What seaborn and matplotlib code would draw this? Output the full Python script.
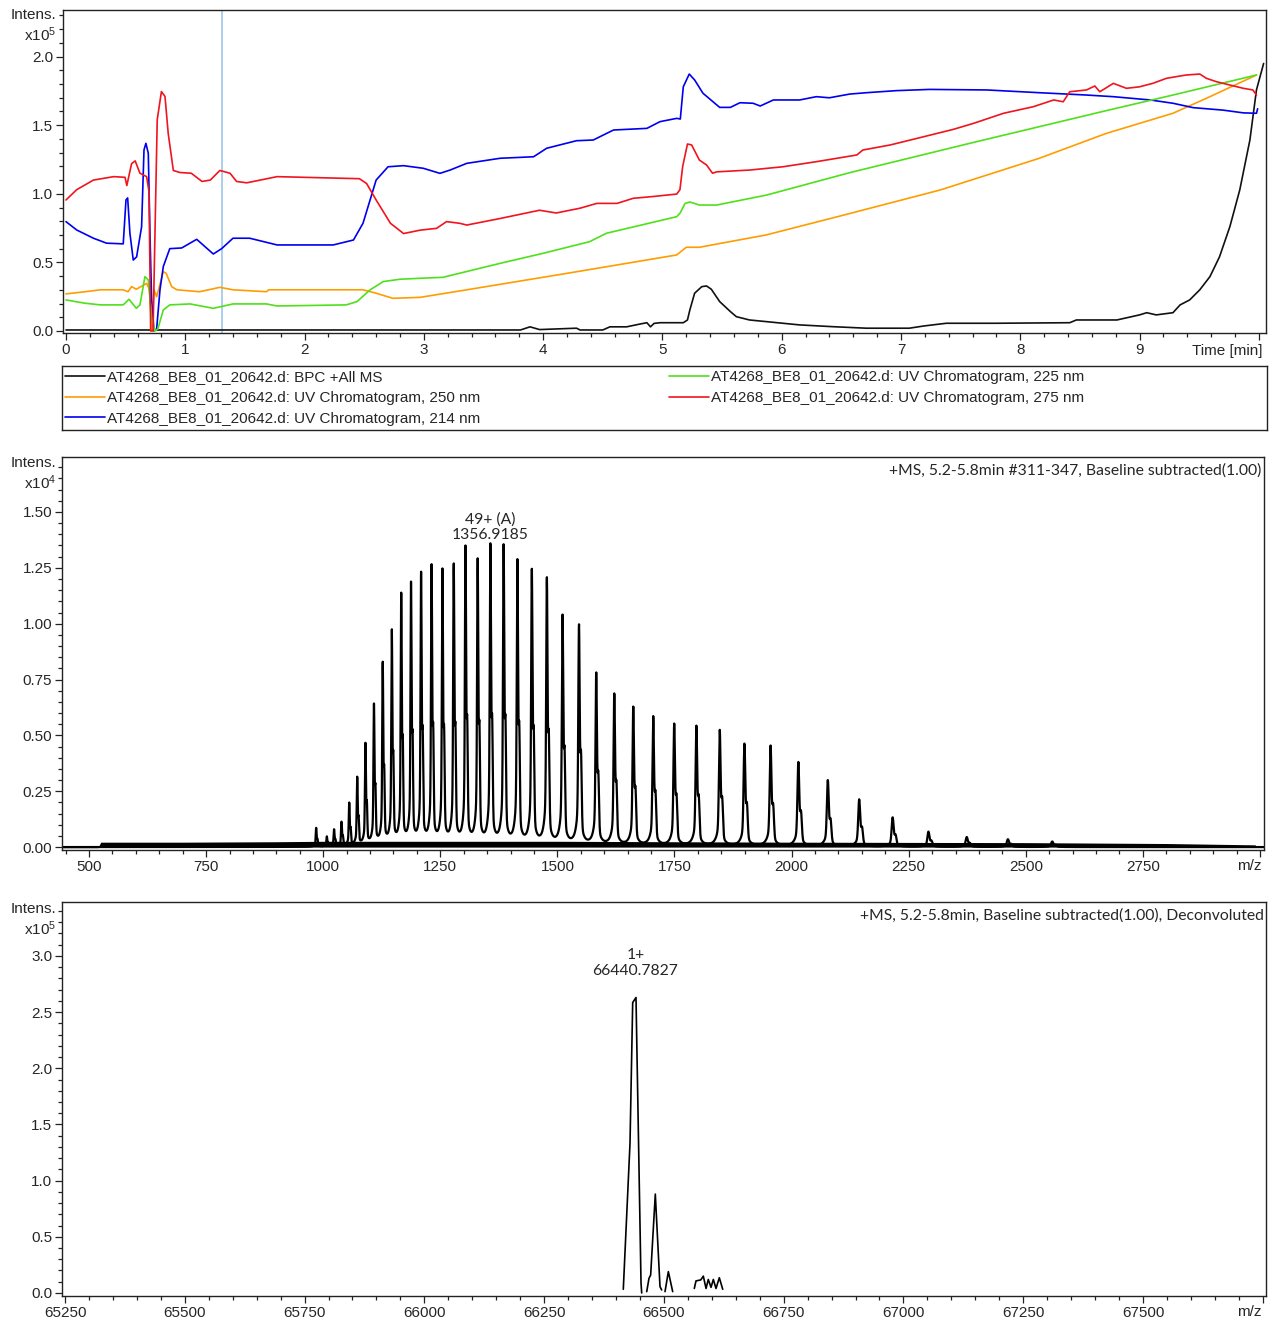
import numpy as np
import pandas as pd
import seaborn as sns
import matplotlib
matplotlib.use("Agg")
import matplotlib.pyplot as plt
from matplotlib.lines import Line2D
from matplotlib.ticker import MultipleLocator, FuncFormatter

# ---- chromatogram traces (time in min, intensity x1e5) ----
bpc_t = [0.0, 3.81, 3.89, 3.97, 4.28, 4.31, 4.50, 4.56, 4.70, 4.81, 4.87, 4.90, 4.93, 4.98, 5.175,
         5.21, 5.23, 5.27, 5.33, 5.37, 5.41, 5.48, 5.57, 5.62, 5.73, 5.87, 6.15, 6.43, 6.71, 7.07,
         7.19, 7.38, 7.80, 8.415, 8.47, 8.81, 9.0, 9.06, 9.14, 9.28, 9.34, 9.42, 9.505, 9.59, 9.67,
         9.757, 9.84, 9.925, 9.98, 10.04]
bpc_v = [0.007, 0.007, 0.03, 0.01, 0.02, 0.007, 0.007, 0.03, 0.03, 0.05, 0.06, 0.03, 0.055, 0.06, 0.06,
         0.08, 0.153, 0.275, 0.323, 0.328, 0.304, 0.214, 0.141, 0.104, 0.08, 0.068, 0.044, 0.031, 0.02, 0.02,
         0.036, 0.056, 0.056, 0.06, 0.08, 0.08, 0.117, 0.133, 0.117, 0.133, 0.19, 0.226, 0.30, 0.396, 0.54,
         0.76, 1.028, 1.392, 1.757, 1.95]

uv250_t = [0.0, 0.16, 0.29, 0.48, 0.52, 0.55, 0.59, 0.676, 0.70, 0.72, 0.738, 0.76, 0.816, 0.84, 0.886,
           0.93, 1.12, 1.29, 1.40, 1.68, 1.70, 2.49, 2.60, 2.74, 2.97, 3.36, 4.20, 5.12, 5.20, 5.31,
           5.87, 6.49, 7.33, 8.16, 8.72, 9.28, 9.56, 9.98]
uv250_v = [0.27, 0.286, 0.30, 0.30, 0.286, 0.323, 0.304, 0.347, 0.30, 0.0, 0.30, 0.25, 0.432, 0.42, 0.323,
           0.30, 0.286, 0.318, 0.30, 0.286, 0.30, 0.30, 0.275, 0.238, 0.245, 0.30, 0.42, 0.554, 0.61, 0.61,
           0.70, 0.838, 1.028, 1.259, 1.44, 1.587, 1.696, 1.866]

uv214_t = [0.0, 0.09, 0.23, 0.34, 0.48, 0.503, 0.517, 0.536, 0.564, 0.592, 0.634, 0.654, 0.67, 0.69, 0.704,
           0.718, 0.738, 0.76, 0.788, 0.816, 0.87, 0.97, 1.096, 1.235, 1.305, 1.40, 1.54, 1.77, 2.24, 2.41,
           2.49, 2.60, 2.70, 2.83, 2.995, 3.135, 3.22, 3.36, 3.64, 3.92, 4.03, 4.28, 4.42, 4.59, 4.87,
           4.98, 5.12, 5.15, 5.175, 5.225, 5.27, 5.34, 5.48, 5.57, 5.65, 5.76, 5.82, 5.93, 6.15, 6.29,
           6.40, 6.57, 6.71, 6.96, 7.24, 7.72, 8.16, 8.555, 8.78, 9.09, 9.28, 9.45, 9.70, 9.87, 9.98, 9.99]
uv214_v = [0.797, 0.736, 0.676, 0.64, 0.635, 0.955, 0.97, 0.712, 0.517, 0.54, 0.76, 1.32, 1.368, 1.295, 0.71,
           0.226, 0.0, 0.015, 0.30, 0.47, 0.60, 0.605, 0.668, 0.561, 0.60, 0.676, 0.676, 0.627, 0.627, 0.663,
           0.785, 1.10, 1.197, 1.205, 1.186, 1.149, 1.173, 1.222, 1.259, 1.27, 1.332, 1.387, 1.392, 1.465, 1.477,
           1.526, 1.55, 1.545, 1.78, 1.873, 1.83, 1.733, 1.63, 1.63, 1.664, 1.66, 1.64, 1.684, 1.684, 1.708,
           1.70, 1.727, 1.737, 1.752, 1.761, 1.757, 1.737, 1.72, 1.708, 1.684, 1.66, 1.628, 1.61, 1.59, 1.587, 1.62]

uv225_t = [0.0, 0.16, 0.29, 0.48, 0.528, 0.59, 0.62, 0.662, 0.69, 0.72, 0.746, 0.77, 0.816, 0.87, 1.04,
           1.235, 1.40, 1.68, 1.77, 2.35, 2.44, 2.55, 2.66, 2.80, 2.97, 3.16, 3.64, 4.0, 4.39, 4.53,
           5.12, 5.147, 5.19, 5.23, 5.31, 5.455, 5.87, 6.57, 7.61, 8.72, 9.28, 9.98]
uv225_v = [0.226, 0.202, 0.19, 0.19, 0.231, 0.165, 0.19, 0.396, 0.372, 0.08, 0.0, 0.015, 0.153, 0.19, 0.197,
           0.165, 0.197, 0.197, 0.182, 0.19, 0.214, 0.30, 0.36, 0.377, 0.384, 0.391, 0.493, 0.566, 0.651, 0.712,
           0.833, 0.858, 0.93, 0.94, 0.918, 0.918, 0.99, 1.154, 1.375, 1.606, 1.72, 1.866]

uv275_t = [0.0, 0.09, 0.23, 0.40, 0.495, 0.51, 0.55, 0.58, 0.62, 0.676, 0.696, 0.71, 0.73, 0.746, 0.765,
           0.80, 0.83, 0.857, 0.90, 0.955, 1.05, 1.14, 1.21, 1.29, 1.375, 1.43, 1.515, 1.77, 2.46, 2.52,
           2.60, 2.72, 2.83, 2.97, 3.107, 3.19, 3.30, 3.36, 3.64, 3.97, 4.11, 4.31, 4.45, 4.62, 4.755,
           4.92, 5.12, 5.147, 5.17, 5.21, 5.245, 5.31, 5.37, 5.42, 5.455, 5.73, 6.01, 6.29, 6.63, 6.68,
           6.91, 7.19, 7.44, 7.61, 7.86, 8.11, 8.28, 8.36, 8.415, 8.555, 8.625, 8.667, 8.78, 8.89, 9.0,
           9.11, 9.226, 9.39, 9.505, 9.56, 9.645, 9.757, 9.87, 9.95, 9.98]
uv275_v = [0.955, 1.03, 1.10, 1.125, 1.12, 1.06, 1.22, 1.24, 1.15, 1.125, 1.015, 0.0, 0.0, 0.71, 1.54,
           1.745, 1.71, 1.44, 1.17, 1.155, 1.15, 1.09, 1.10, 1.17, 1.15, 1.09, 1.08, 1.125, 1.11, 1.075,
           0.955, 0.785, 0.71, 0.735, 0.748, 0.797, 0.785, 0.772, 0.82, 0.88, 0.86, 0.895, 0.93, 0.93, 0.967,
           0.98, 0.998, 1.03, 1.20, 1.363, 1.356, 1.246, 1.21, 1.15, 1.16, 1.173, 1.197, 1.234, 1.283, 1.319,
           1.356, 1.416, 1.47, 1.514, 1.587, 1.635, 1.684, 1.671, 1.744, 1.757, 1.786, 1.744, 1.805, 1.769, 1.78,
           1.805, 1.842, 1.866, 1.873, 1.842, 1.817, 1.793, 1.769, 1.757, 1.72]

trace_names = ["AT4268_BE8_01_20642.d: BPC +All MS",
               "AT4268_BE8_01_20642.d: UV Chromatogram, 250 nm",
               "AT4268_BE8_01_20642.d: UV Chromatogram, 214 nm",
               "AT4268_BE8_01_20642.d: UV Chromatogram, 225 nm",
               "AT4268_BE8_01_20642.d: UV Chromatogram, 275 nm"]
trace_colors = ["#111111", "#ff9c00", "#0000f0", "#4fe01c", "#f0141e"]
cursor_time = 1.31

# ---- MS spectrum: charge-state envelope peaks (m/z, intensity x1e4) ----
peak_mz = [985.0, 1007.7, 1023.2, 1039.1, 1055.6, 1072.6, 1090.2, 1108.4, 1127.1, 1146.5,
           1166.6, 1187.5, 1209.0, 1231.4, 1254.6, 1278.7, 1303.8, 1329.8, 1356.9, 1385.2,
           1414.6, 1445.4, 1477.5, 1511.0, 1546.1, 1582.9, 1621.5, 1662.0, 1704.6, 1749.4,
           1796.7, 1846.6, 1899.3, 1955.1, 2014.4, 2077.3, 2144.3, 2215.7, 2292.1, 2373.9,
           2461.8, 2556.4]
peak_int = [0.085, 0.045, 0.076, 0.109, 0.193, 0.307, 0.457, 0.631, 0.819, 0.963,
            1.124, 1.176, 1.217, 1.251, 1.232, 1.258, 1.337, 1.279, 1.351, 1.345,
            1.279, 1.237, 1.203, 1.034, 0.994, 0.778, 0.685, 0.626, 0.584, 0.551,
            0.543, 0.524, 0.463, 0.455, 0.381, 0.300, 0.214, 0.133, 0.069, 0.045,
            0.035, 0.025]
noise_mz = [520, 525, 700, 900, 1000, 1500, 2000, 2500, 2800, 2990]
noise_top = [0.0, 0.022, 0.022, 0.024, 0.026, 0.026, 0.022, 0.02, 0.016, 0.01]
base_mz = [442, 520]
base_int = [0.0, 0.0]

# ---- deconvoluted spectrum (mass, intensity x1e5), separate line pieces ----
dec_segments = [
    ([66415.3, 66429.3, 66434.9, 66441.8, 66452.3, 66453.7],
     [0.033, 1.333, 2.585, 2.630, 0.086, 0.0]),
    ([66464.2, 66468.9, 66472.4, 66482.1, 66491.9, 66495.4],
     [0.012, 0.13, 0.16, 0.88, 0.056, 0.027]),
    ([66502.4, 66509.3, 66518.4],
     [0.012, 0.19, 0.012]),
    ([66563.5, 66567.0, 66570.0, 66576.9, 66582.3, 66588.0, 66592.7, 66598.4, 66603.2, 66608.8, 66615.7, 66622.8],
     [0.04, 0.107, 0.11, 0.116, 0.15, 0.04, 0.12, 0.05, 0.12, 0.04, 0.136, 0.033]),
]

sns.set_theme(style="ticks")
plt.rcParams["font.family"] = ["Liberation Sans", "DejaVu Sans"]
plt.rcParams["mathtext.default"] = "regular"
plt.rcParams["axes.edgecolor"] = "#222222"
plt.rcParams["axes.linewidth"] = 1.0

W, H = 1276, 1324
fig = plt.figure(figsize=(W / 100, H / 100), dpi=100)
fig.patch.set_facecolor("white")


def px_axes(x0, y0, x1, y1):
    return fig.add_axes([x0 / W, 1 - y1 / H, (x1 - x0) / W, (y1 - y0) / H])


def style_ticks(ax, xmaj, xmin, ymaj, ymin, xfmt, yfmt):
    ax.xaxis.set_major_locator(MultipleLocator(xmaj))
    ax.xaxis.set_minor_locator(MultipleLocator(xmin))
    ax.yaxis.set_major_locator(MultipleLocator(ymaj))
    ax.yaxis.set_minor_locator(MultipleLocator(ymin))
    ax.xaxis.set_major_formatter(FuncFormatter(xfmt))
    ax.yaxis.set_major_formatter(FuncFormatter(yfmt))
    ax.tick_params(which="major", length=5, width=0.9, labelsize=11, pad=2, color="#222222")
    ax.tick_params(which="minor", length=3, width=0.9, color="#222222")
    ax.tick_params(axis="y", which="both", left=True)
    ax.tick_params(axis="x", which="both", bottom=True)
    ax.set_xlabel("")
    ax.set_ylabel("")
    for s in ax.spines.values():
        s.set_visible(True)
        s.set_color("#222222")


def ylabels(ypx, power):
    fig.text(56 / W, 1 - ypx / H, "Intens.", ha="right", va="center", fontsize=11)
    fig.text(56 / W, 1 - (ypx + 20) / H, "x10$^{%d}$" % power, ha="right", va="center", fontsize=11)


# ---------------- top: chromatograms ----------------
ax1 = px_axes(63, 10, 1266, 333)
frames = []
for name, t, v in zip(trace_names, [bpc_t, uv250_t, uv214_t, uv225_t, uv275_t],
                      [bpc_v, uv250_v, uv214_v, uv225_v, uv275_v]):
    frames.append(pd.DataFrame({"time": t, "intens": v, "trace": name}))
chrom = pd.concat(frames, ignore_index=True)
ax1.axvline(cursor_time, color="#9cc8ec", lw=1.2, zorder=1)
sns.lineplot(data=chrom, x="time", y="intens", hue="trace", hue_order=trace_names,
             palette=trace_colors, estimator=None, sort=False, lw=1.2, legend=False, ax=ax1)
ax1.set_xlim(-0.025, 10.06)
ax1.set_ylim(-0.015, 2.34)
style_ticks(ax1, 1, 0.2, 0.5, 0.1,
            lambda x, p: "" if x > 9.5 else "%d" % round(x),
            lambda y, p: "%.1f" % y)
fig.text(1262 / W, 1 - 351 / H, "Time [min]", ha="right", va="center", fontsize=11)
ylabels(15, 5)

# legend box
axl = px_axes(62, 366, 1267, 430)
axl.set_xticks([])
axl.set_yticks([])
for s in axl.spines.values():
    s.set_visible(True)
    s.set_color("#222222")
handles = [Line2D([], [], color=c, lw=1.2) for c in trace_colors]
leg_kw = dict(frameon=False, fontsize=11, handlelength=2.6, handletextpad=0.15,
              labelspacing=0.45, borderpad=0, borderaxespad=0, loc="upper left")
leg1 = axl.legend(handles[:3], trace_names[:3], bbox_to_anchor=(3 / 1205, 1 - 4 / 64), **leg_kw)
axl.add_artist(leg1)
axl.legend(handles[3:], trace_names[3:], bbox_to_anchor=(607 / 1205, 1 - 4 / 64), **leg_kw)

# ---------------- middle: MS spectrum ----------------
ax2 = px_axes(62, 457, 1264, 850)
mz = np.arange(442.0, 3008.0, 0.2)
prof = np.zeros_like(mz)
for m, h in zip(peak_mz, peak_int):
    s = 0.0009 * m
    g = 0.0035 * m
    prof += h * (0.80 * np.exp(-0.5 * ((mz - m) / s) ** 2)
                 + 0.30 * np.exp(-0.5 * ((mz - m - 0.0028 * m) / s) ** 2)
                 + 0.19 / (1 + ((mz - m) / g) ** 2))
ax2.fill_between(noise_mz, 0, noise_top, color="black", lw=0)
sns.lineplot(x=base_mz, y=base_int, color="black", lw=1.0, ax=ax2)
sns.lineplot(x=mz, y=prof, color="black", lw=1.6, estimator=None, sort=False, ax=ax2)
ax2.set_xlim(442.4, 3008.5)
ax2.set_ylim(-0.013, 1.746)
style_ticks(ax2, 250, 50, 0.25, 0.05,
            lambda x, p: "" if x > 2900 else "%d" % round(x),
            lambda y, p: "%.2f" % y)
fig.text(1262 / W, 1 - 866 / H, "m/z", ha="right", va="center", fontsize=11)
ylabels(463, 4)
ann_font = ["Lato", "DejaVu Sans"]
ax2.text(0.998, 0.965, "+MS, 5.2-5.8min #311-347, Baseline subtracted(1.00)", transform=ax2.transAxes,
         ha="right", va="center", fontsize=11.3, family=ann_font)
ax2.annotate("49+ (A)\n1356.9185", xy=(1356.9, 1.351), xytext=(0, 2), textcoords="offset points",
             ha="center", va="bottom", fontsize=11.3, family=ann_font, linespacing=1.15)

# ---------------- bottom: deconvoluted ----------------
ax3 = px_axes(62, 902, 1266, 1296)
for xs, ys in dec_segments:
    sns.lineplot(x=xs, y=ys, color="black", lw=1.2, estimator=None, sort=False, ax=ax3)
ax3.set_xlim(65243.7, 67756.8)
ax3.set_ylim(-0.027, 3.48)
style_ticks(ax3, 250, 50, 0.5, 0.1,
            lambda x, p: "" if x > 67600 else "%d" % round(x),
            lambda y, p: "%.1f" % y)
fig.text(1262 / W, 1 - 1312 / H, "m/z", ha="right", va="center", fontsize=11)
ylabels(909, 5)
ax3.text(0.998, 0.965, "+MS, 5.2-5.8min, Baseline subtracted(1.00), Deconvoluted", transform=ax3.transAxes,
         ha="right", va="center", fontsize=11.3, family=ann_font)
ax3.annotate("1+\n66440.7827", xy=(66440.8, 2.63), xytext=(0, 14), textcoords="offset points",
             ha="center", va="bottom", fontsize=11.3, family=ann_font, linespacing=1.15)

fig.savefig("out.png", dpi=100, facecolor="white")
